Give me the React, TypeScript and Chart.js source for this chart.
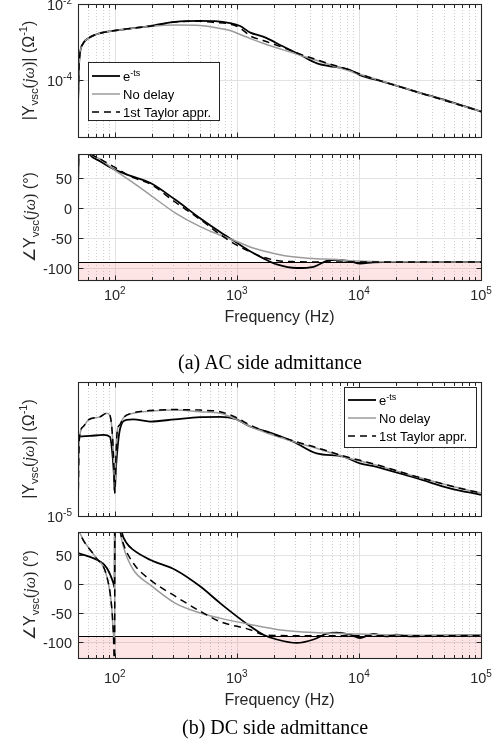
import { useEffect, useRef } from 'react';
import { Chart, registerables } from 'chart.js';

Chart.register(...registerables);

const SANS = '"Liberation Sans", Arial, Helvetica, sans-serif';
const SERIF = '"Liberation Serif", "Times New Roman", Times, serif';

// ---------------- (a) AC side admittance : magnitude |Y| (1/Ω) ----------------
const acMagFreqEts = [50, 50.9, 51.9, 55.3, 60.9, 75.6, 100, 133, 194, 312, 500, 663, 880, 1065, 1290, 1640, 2400, 3300, 4540, 6140, 7700, 8480, 10200, 15700, 29600, 55700, 100000];
const acMagEts = [2.0e-5, 2.2e-4, 5.0e-4, 9.3e-4, 1.26e-3, 1.7e-3, 2.0e-3, 2.26e-3, 2.63e-3, 3.4e-3, 3.6e-3, 3.55e-3, 3.16e-3, 2.63e-3, 1.76e-3, 1.38e-3, 7.6e-4, 4.6e-4, 2.75e-4, 2.24e-4, 2.0e-4, 1.82e-4, 1.35e-4, 9.1e-5, 4.9e-5, 2.7e-5, 1.48e-5];
const acMagFreqNoDelay = [50, 50.9, 51.9, 55.3, 60.9, 75.6, 100, 133, 194, 312, 500, 663, 880, 1065, 1290, 1640, 2400, 3300, 6140, 10200, 29600, 100000];
const acMagNoDelay = [2.0e-5, 2.2e-4, 5.0e-4, 9.3e-4, 1.26e-3, 1.7e-3, 2.0e-3, 2.24e-3, 2.57e-3, 2.8e-3, 2.72e-3, 2.4e-3, 2.0e-3, 1.58e-3, 1.23e-3, 9.3e-4, 6.2e-4, 4.5e-4, 2.37e-4, 1.42e-4, 4.9e-5, 1.48e-5];
const acMagFreqTaylor = [50, 50.9, 51.9, 55.3, 60.9, 75.6, 100, 133, 194, 312, 500, 663, 880, 1065, 1290, 1640, 2400, 3300, 4540, 6140, 8480, 10200, 29600, 100000];
const acMagTaylor = [2.0e-5, 2.2e-4, 5.0e-4, 9.3e-4, 1.26e-3, 1.7e-3, 2.0e-3, 2.26e-3, 2.6e-3, 3.36e-3, 3.5e-3, 3.26e-3, 2.98e-3, 2.34e-3, 1.44e-3, 1.1e-3, 7.1e-4, 4.8e-4, 3.4e-4, 2.48e-4, 1.82e-4, 1.44e-4, 4.9e-5, 1.48e-5];

// ---------------- (a) AC side admittance : phase (deg) ----------------
const acPhFreqEts = [50, 50.7, 53, 57, 60.7, 75.7, 100, 133, 194.6, 312, 500, 729, 1000, 1285, 1652, 2127, 3104, 4245, 5466, 6597, 8490, 10240, 13090, 15800, 30000, 100000];
const acPhEts = [30, 92, 115, 105, 92, 78, 64, 54, 42, 14, -17, -40, -58, -72, -84, -94, -100, -98, -88, -86.5, -89, -92.5, -90.5, -90, -90, -90];
const acPhFreqNoDelay = [50, 50.7, 53, 58, 62.6, 75.7, 100, 142, 194.6, 312, 500, 729, 881, 1065, 1285, 1770, 2400, 3300, 4500, 6200, 8480, 15800, 100000];
const acPhNoDelay = [30, 92, 112, 103, 91, 82, 63, 42, 22, -8, -31, -45, -51.5, -58, -65, -73, -79, -82.5, -84.5, -85.5, -88, -89.5, -90];
const acPhFreqTaylor = [50, 50.7, 53, 58, 62, 75.7, 100, 133, 194.6, 312, 500, 729, 1000, 1285, 1652, 2127, 3104, 5000, 100000];
const acPhTaylor = [30, 92, 118, 108, 94, 82, 68, 53, 40, 10, -19, -44, -62, -73, -82, -87.5, -89.5, -90, -90];

// ---------------- (b) DC side admittance : magnitude |Y| (1/Ω) ----------------
const dcMagFreqEts = [50, 62.6, 81, 91.5, 95, 98, 100, 102, 105, 110, 124.7, 142, 194, 312, 500, 729, 970, 1285, 1770, 2900, 4500, 7470, 10200, 14000, 15700, 21600, 29600, 55700, 100000];
const dcMagEts = [2.33e-3, 2.45e-3, 2.63e-3, 2.3e-3, 9.3e-4, 2.3e-4, 4.9e-5, 2.3e-4, 9.3e-4, 3.7e-3, 7.4e-3, 7.7e-3, 6.6e-3, 7.7e-3, 8.9e-3, 9.1e-3, 7.9e-3, 4.7e-3, 3.3e-3, 1.66e-3, 7.4e-4, 5.9e-4, 3.7e-4, 2.95e-4, 2.6e-4, 1.86e-4, 1.35e-4, 6.7e-5, 4.3e-5];
const dcMagFreqNoDelay = [50, 50.5, 51.2, 55.3, 60.8, 75.6, 86, 91.5, 95, 98, 100, 102, 105, 110, 117, 142, 194, 312, 500, 729, 970, 1285, 2900, 4500, 7470, 14000, 29600, 76800, 100000];
const dcMagNoDelay = [1.2e-5, 1.5e-4, 1.86e-3, 4.7e-3, 7.4e-3, 9.1e-3, 1.17e-2, 9.8e-3, 3.7e-3, 4.7e-4, 4.9e-5, 4.7e-4, 3.7e-3, 5.2e-3, 8.3e-3, 1.17e-2, 1.35e-2, 1.45e-2, 1.29e-2, 1.17e-2, 7.9e-3, 4.7e-3, 1.66e-3, 1.05e-3, 5.9e-4, 3.3e-4, 1.48e-4, 6.0e-5, 4.9e-5];
const dcMagFreqTaylor = [50, 50.5, 51.2, 55.3, 60.8, 75.6, 86, 91.5, 95, 98, 100, 102, 105, 110, 117, 142, 194, 312, 500, 729, 970, 1285, 2900, 4500, 7470, 14000, 29600, 76800, 100000];
const dcMagTaylor = [1.2e-5, 1.5e-4, 1.86e-3, 4.7e-3, 7.4e-3, 9.1e-3, 1.17e-2, 9.8e-3, 3.7e-3, 4.7e-4, 4.9e-5, 4.7e-4, 3.7e-3, 5.2e-3, 8.3e-3, 1.2e-2, 1.4e-2, 1.5e-2, 1.45e-2, 1.29e-2, 9.0e-3, 5.2e-3, 1.75e-3, 1.1e-3, 6.2e-4, 3.4e-4, 1.5e-4, 6.0e-5, 4.9e-5];

// ---------------- (b) DC side admittance : phase (deg) ----------------
const dcPhFreqEts = [50, 75.7, 86.1, 97.4, 99.6, 100.4, 105, 114, 125, 142, 194.6, 312, 500, 729, 1000, 1285, 1652, 2127, 3104, 4245, 5466, 6597, 8490, 10240, 13090, 16700, 20200, 26000, 38000, 100000];
const dcPhEts = [53.6, 39, 27.7, 1.7, -6, 175, 140, 90, 71, 59, 42, 24.7, -4, -33, -56, -73, -87.7, -96, -102, -96, -86, -84, -87.7, -93.4, -86.5, -90.7, -87.7, -90.5, -89.5, -89];
const dcPhFreqNoDelay = [50, 51.9, 68.9, 86.1, 94.3, 97.4, 99.8, 100.2, 105, 110.6, 117.5, 142, 194.6, 312, 500, 729, 1285, 2200, 4250, 8490, 15800, 100000];
const dcPhNoDelay = [100, 88, 47.7, 13, -39, -85, -100, 150, 120, 91, 65, 24.7, -1.2, -33, -50, -59, -70, -79, -84, -86, -87.7, -89];
const dcPhFreqTaylor = [50, 51.9, 68.9, 86.1, 94.3, 97.4, 99.8, 100.2, 105, 110.6, 117.5, 142, 194.6, 312, 500, 729, 1285, 1652, 2127, 4000, 100000];
const dcPhTaylor = [100, 88, 47.7, 13, -39, -85, -150, 150, 120, 92, 70, 36, 7.4, -21, -47, -65, -79, -87.7, -89, -89.5, -89.5];

// ---------------- ticks / labels ----------------
const freqTickExps = [2, 3, 4, 5];
const acMagTickExps = [-2, -4];
const dcMagTickExps = [-5];
const phaseTicks = [50, 0, -50, -100];
const phaseLimit = -90;
const xAxisTitle = 'Frequency (Hz)';
const captionA = '(a) AC side admittance';
const captionB = '(b) DC side admittance';

// ---------------- drawing helpers ----------------
type Seg = { t: string; s: number; dy?: number; it?: boolean; f?: string };

const TICK = 14.5;
const SUPS = 10;
const legendEntries: Seg[][] = [
  [{ t: 'e', s: 13 }, { t: '-ts', s: 9, dy: -5 }],
  [{ t: 'No delay', s: 13 }],
  [{ t: '1st Taylor appr.', s: 13 }],
];
const magTitle: Seg[] = [
  { t: '|Y', s: 16 }, { t: 'vsc', s: 11.5, dy: 4 }, { t: '(', s: 16, f: SERIF },
  { t: 'jω', s: 16, it: true, f: SERIF }, { t: ')', s: 16, f: SERIF }, { t: '| (Ω', s: 16 },
  { t: '-1', s: 11, dy: -7 }, { t: ')', s: 16 },
];
const phTitle: Seg[] = [
  { t: '∠Y', s: 16 }, { t: 'vsc', s: 11.5, dy: 4 }, { t: '(', s: 16, f: SERIF },
  { t: 'jω', s: 16, it: true, f: SERIF }, { t: ')', s: 16, f: SERIF }, { t: ' (°)', s: 16 },
];
const pow10 = (e: number): Seg[] => [{ t: '10', s: TICK }, { t: String(e), s: SUPS, dy: -6.5 }];

function segFont(g: Seg) {
  return `${g.it ? 'italic ' : ''}${g.s}px ${g.f || SANS}`;
}
function segsWidth(ctx: CanvasRenderingContext2D, segs: Seg[]) {
  let w = 0;
  for (const g of segs) {
    ctx.font = segFont(g);
    w += ctx.measureText(g.t).width;
  }
  return w;
}
function drawSegs(ctx: CanvasRenderingContext2D, segs: Seg[], x: number, y: number, align: 'left' | 'center' | 'right') {
  const w = segsWidth(ctx, segs);
  let cx = align === 'center' ? x - w / 2 : align === 'right' ? x - w : x;
  ctx.textAlign = 'left';
  ctx.textBaseline = 'alphabetic';
  for (const g of segs) {
    ctx.font = segFont(g);
    ctx.fillText(g.t, cx, y + (g.dy || 0));
    cx += ctx.measureText(g.t).width;
  }
}

const AXIS = '#262626';
const MAJOR_GRID = '#e2e2e2';
const MINOR_GRID = '#cfcfcf';
const BAND = 'rgba(240,40,40,0.12)';

const majorFreqs = freqTickExps.map((e) => Math.pow(10, e));
const minorFreqs: number[] = [];
[1, 2, 3, 4].forEach((k) => {
  [2, 3, 4, 5, 6, 7, 8, 9].forEach((d) => {
    const f = d * Math.pow(10, k);
    if (f > 50 && f < 1e5) minorFreqs.push(f);
  });
});

type Style = { color: string; width: number; dash: number[]; order: number };
const ETS: Style = { color: '#000000', width: 1.8, dash: [], order: 3 };
const NODELAY: Style = { color: '#9b9b9b', width: 1.5, dash: [], order: 2 };
const TAYLOR: Style = { color: '#000000', width: 1.5, dash: [7, 5], order: 1 };
const legendStyles = [ETS, NODELAY, TAYLOR];

type Series = { freq: number[]; vals: number[]; st: Style };
type PanelCfg = {
  top: number;
  height: number;
  pad: { top: number; bottom: number };
  yLog: boolean;
  yMin: number;
  yMax: number;
  yTicks: { v: number; label: Seg[] }[];
  yGrid: number[];
  band?: number;
  xTickBase?: number;
  xTitleBase?: number;
  yTitle: Seg[];
  yTitlePos: { x: number; y: number };
  legend?: { x: number; y: number; w: number; h: number; rows: number[] };
  series: Series[];
};

const panels: PanelCfg[] = [
  {
    top: 0, height: 150, pad: { top: 4, bottom: 13 },
    yLog: true, yMin: 3.1623e-6, yMax: 1e-2,
    yTicks: acMagTickExps.map((e) => ({ v: Math.pow(10, e), label: pow10(e) })),
    yGrid: [1e-4],
    yTitle: magTitle, yTitlePos: { x: 33.5, y: 70.5 },
    legend: { x: 88, y: 62, w: 131, h: 58, rows: [76, 94, 112] },
    series: [
      { freq: acMagFreqEts, vals: acMagEts, st: ETS },
      { freq: acMagFreqNoDelay, vals: acMagNoDelay, st: NODELAY },
      { freq: acMagFreqTaylor, vals: acMagTaylor, st: TAYLOR },
    ],
  },
  {
    top: 150, height: 180, pad: { top: 4, bottom: 50 },
    yLog: false, yMin: -120, yMax: 90,
    yTicks: phaseTicks.map((v) => ({ v, label: [{ t: String(v), s: TICK }] })),
    yGrid: phaseTicks, band: phaseLimit,
    xTickBase: 150, xTitleBase: 171.5,
    yTitle: phTitle, yTitlePos: { x: 35, y: 67 },
    series: [
      { freq: acPhFreqEts, vals: acPhEts, st: ETS },
      { freq: acPhFreqNoDelay, vals: acPhNoDelay, st: NODELAY },
      { freq: acPhFreqTaylor, vals: acPhTaylor, st: TAYLOR },
    ],
  },
  {
    top: 372, height: 155, pad: { top: 10, bottom: 11 },
    yLog: true, yMin: 1e-5, yMax: 1e-1,
    yTicks: dcMagTickExps.map((e) => ({ v: Math.pow(10, e), label: pow10(e) })),
    yGrid: [],
    yTitle: magTitle, yTitlePos: { x: 33.5, y: 77 },
    legend: { x: 344, y: 15, w: 132, h: 60, rows: [28, 46, 64] },
    series: [
      { freq: dcMagFreqEts, vals: dcMagEts, st: ETS },
      { freq: dcMagFreqNoDelay, vals: dcMagNoDelay, st: NODELAY },
      { freq: dcMagFreqTaylor, vals: dcMagTaylor, st: TAYLOR },
    ],
  },
  {
    top: 527, height: 190, pad: { top: 5, bottom: 59 },
    yLog: false, yMin: -128, yMax: 90,
    yTicks: phaseTicks.map((v) => ({ v, label: [{ t: String(v), s: TICK }] })),
    yGrid: phaseTicks, band: phaseLimit,
    xTickBase: 156, xTitleBase: 177.5,
    yTitle: phTitle, yTitlePos: { x: 35, y: 68 },
    series: [
      { freq: dcPhFreqEts, vals: dcPhEts, st: ETS },
      { freq: dcPhFreqNoDelay, vals: dcPhNoDelay, st: NODELAY },
      { freq: dcPhFreqTaylor, vals: dcPhTaylor, st: TAYLOR },
    ],
  },
];

function line(ctx: CanvasRenderingContext2D, x1: number, y1: number, x2: number, y2: number) {
  ctx.beginPath();
  ctx.moveTo(x1, y1);
  ctx.lineTo(x2, y2);
  ctx.stroke();
}

function decorPlugin(p: PanelCfg) {
  return {
    id: 'decor',
    beforeDatasetsDraw(chart: any) {
      const { ctx, chartArea: a } = chart;
      const xs = chart.scales.x;
      const ys = chart.scales.y;
      ctx.save();
      ctx.lineWidth = 1;
      ctx.strokeStyle = MINOR_GRID;
      ctx.setLineDash([1, 2]);
      for (const f of minorFreqs) {
        const x = Math.round(xs.getPixelForValue(f)) + 0.5;
        line(ctx, x, a.top, x, a.bottom);
      }
      ctx.setLineDash([]);
      ctx.strokeStyle = MAJOR_GRID;
      for (const f of majorFreqs) {
        const x = Math.round(xs.getPixelForValue(f)) + 0.5;
        line(ctx, x, a.top, x, a.bottom);
      }
      for (const v of p.yGrid) {
        const y = Math.round(ys.getPixelForValue(v)) + 0.5;
        line(ctx, a.left, y, a.right, y);
      }
      if (p.band !== undefined) {
        const yb = ys.getPixelForValue(p.band);
        ctx.fillStyle = BAND;
        ctx.fillRect(a.left, yb, a.right - a.left, a.bottom - yb);
        ctx.strokeStyle = '#000';
        ctx.lineWidth = 1.2;
        line(ctx, a.left, Math.round(yb) + 0.5, a.right, Math.round(yb) + 0.5);
      }
      ctx.restore();
    },
    afterDatasetsDraw(chart: any) {
      const { ctx, chartArea: a } = chart;
      const xs = chart.scales.x;
      const ys = chart.scales.y;
      ctx.save();
      ctx.strokeStyle = AXIS;
      ctx.fillStyle = AXIS;
      ctx.lineWidth = 1;
      ctx.setLineDash([]);
      const L = Math.round(a.left) + 0.5;
      const R = Math.round(a.right) + 0.5;
      const T = Math.round(a.top) + 0.5;
      const B = Math.round(a.bottom) + 0.5;
      // x tick marks (inside, top & bottom)
      for (const f of minorFreqs) {
        const x = Math.round(xs.getPixelForValue(f)) + 0.5;
        line(ctx, x, B, x, B - 3.5);
        line(ctx, x, T, x, T + 3.5);
      }
      for (const f of majorFreqs) {
        const x = Math.round(xs.getPixelForValue(f)) + 0.5;
        line(ctx, x, B, x, B - 5);
        line(ctx, x, T, x, T + 5);
      }
      // y tick marks
      for (const t of p.yTicks) {
        const y = Math.round(ys.getPixelForValue(t.v)) + 0.5;
        line(ctx, L, y, L + 5, y);
        line(ctx, R, y, R - 5, y);
      }
      // box
      ctx.lineWidth = 1.1;
      ctx.strokeRect(L, T, R - L, B - T);
      // y tick labels
      ctx.fillStyle = AXIS;
      for (const t of p.yTicks) {
        const y = ys.getPixelForValue(t.v);
        drawSegs(ctx, t.label, a.left - 6, y + 6.2, 'right');
      }
      // x tick labels + title
      if (p.xTickBase !== undefined) {
        freqTickExps.forEach((e) => {
          const x = xs.getPixelForValue(Math.pow(10, e));
          drawSegs(ctx, pow10(e), x, p.xTickBase as number, 'center');
        });
        drawSegs(ctx, [{ t: xAxisTitle, s: 16 }], (a.left + a.right) / 2, p.xTitleBase as number, 'center');
      }
      // y title (rotated)
      ctx.save();
      ctx.translate(p.yTitlePos.x, p.yTitlePos.y);
      ctx.rotate(-Math.PI / 2);
      drawSegs(ctx, p.yTitle, 0, 0, 'center');
      ctx.restore();
      // legend
      if (p.legend) {
        const g = p.legend;
        ctx.fillStyle = '#ffffff';
        ctx.fillRect(g.x, g.y, g.w, g.h);
        ctx.strokeStyle = AXIS;
        ctx.lineWidth = 1;
        ctx.strokeRect(g.x + 0.5, g.y + 0.5, g.w, g.h);
        legendEntries.forEach((segs, i) => {
          const st = legendStyles[i];
          const y = g.rows[i];
          ctx.strokeStyle = st.color;
          ctx.lineWidth = st.width;
          ctx.setLineDash(st.dash);
          line(ctx, g.x + 4, y, g.x + 32, y);
          ctx.setLineDash([]);
          ctx.fillStyle = '#000';
          drawSegs(ctx, segs, g.x + 35, y + 4.5, 'left');
        });
      }
      ctx.restore();
    },
  };
}

function PanelChart({ cfg }: { cfg: PanelCfg }) {
  const ref = useRef<HTMLCanvasElement | null>(null);
  useEffect(() => {
    const canvas = ref.current;
    if (!canvas) return;
    const chart = new Chart(canvas, {
      type: 'line',
      data: {
        datasets: cfg.series.map((s) => ({
          data: s.freq.map((f, i) => ({ x: f, y: s.vals[i] })),
          borderColor: s.st.color,
          borderWidth: s.st.width,
          borderDash: s.st.dash,
          pointRadius: 0,
          fill: false,
          cubicInterpolationMode: 'monotone' as const,
          order: s.st.order,
        })),
      },
      options: {
        responsive: false,
        animation: false,
        devicePixelRatio: 1,
        events: [],
        layout: { padding: { left: 78, right: 20, top: cfg.pad.top, bottom: cfg.pad.bottom } },
        plugins: { legend: { display: false }, tooltip: { enabled: false }, title: { display: false } },
        scales: {
          x: { type: 'logarithmic', min: 50, max: 1e5, display: false },
          y: { type: cfg.yLog ? 'logarithmic' : 'linear', min: cfg.yMin, max: cfg.yMax, display: false },
        },
      } as any,
      plugins: [decorPlugin(cfg)],
    });
    return () => chart.destroy();
  }, [cfg]);
  return (
    <canvas
      ref={ref}
      width={501}
      height={cfg.height}
      style={{ position: 'absolute', left: 0, top: cfg.top, width: 501, height: cfg.height }}
    />
  );
}

const captionStyle = (cx: number, top: number): any => ({
  position: 'absolute',
  left: cx,
  top,
  transform: 'translateX(-50%)',
  whiteSpace: 'nowrap',
  font: `20px ${SERIF}`,
  lineHeight: '24px',
  color: '#000',
});

export default function App() {
  return (
    <div style={{ position: 'absolute', left: 0, top: 0, width: 501, height: 755, background: '#fff', overflow: 'hidden' }}>
      {panels.map((p, i) => (
        <PanelChart key={i} cfg={p} />
      ))}
      <div style={captionStyle(270, 350)}>{captionA}</div>
      <div style={captionStyle(275, 715)}>{captionB}</div>
    </div>
  );
}
